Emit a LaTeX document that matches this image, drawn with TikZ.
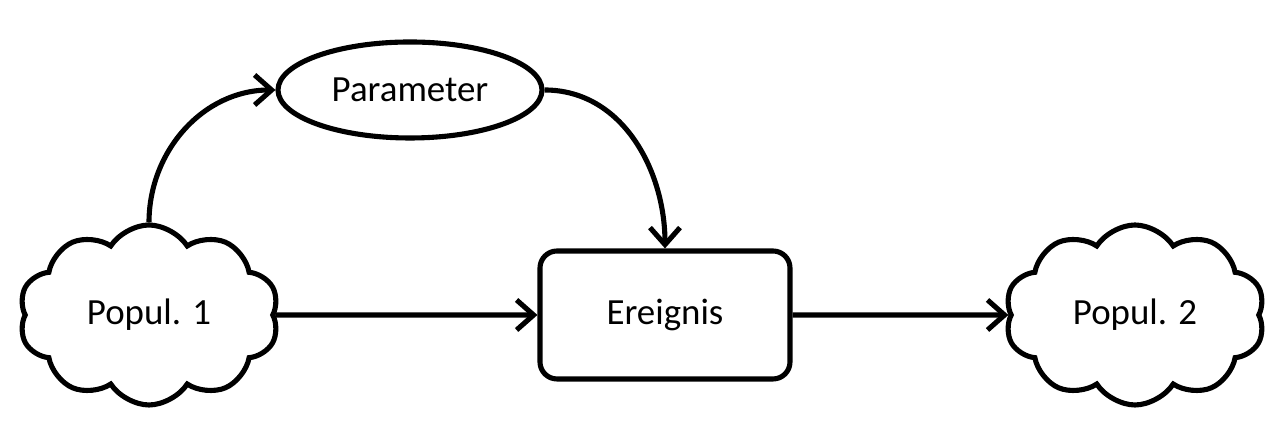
\documentclass[tikz,border=0pt]{standalone}
\usepackage{fontspec}
\setmainfont{Carlito}
\usepackage{tikz}
\usetikzlibrary{shapes.symbols,shapes.geometric,arrows.meta}

\tikzset{
    popul/.style={cloud,cloud puffs=10,cloud puff arc=115,aspect=1.45,draw,line width=1.45pt,minimum width=2.6cm,minimum height=1.8cm,inner sep=0pt},
    param/.style={ellipse,draw,line width=1.45pt,minimum width=2.64cm,minimum height=0.96cm},
    event/.style={rectangle,rounded corners=0.17cm,draw,line width=1.45pt,minimum width=2.5cm,minimum height=1.28cm},
    flow/.style={line width=1.45pt,-{Straight Barb[length=0.17cm,width=0.3cm,line width=1.45pt]}}
}

\begin{document}
\begin{tikzpicture}[font=\fontsize{10.5}{12}\selectfont]
            %%% FRAME %%%
            \useasboundingbox (0,0) rectangle (12.86,4.25);

            %%% NODES %%%
            \node[popul] (pop1) at (1.49,1.10) {Popul. 1};
            \node[popul] (pop2) at (11.35,1.10) {Popul. 2};
            \node[event] (ereignis) at (6.65,1.10) {Ereignis};
            \node[param] (parameter) at (4.10,3.35) {Parameter};

            %%% ARROWS %%%
            \draw[flow] (pop1)--(ereignis);
            \draw[flow] (ereignis)--(pop2);
            \draw[flow] (pop1.north) to[out=90,in=180] (parameter.west);
            \draw[flow] (parameter.east) to[out=0,in=90] (ereignis.north);
        \end{tikzpicture}
\end{document}
